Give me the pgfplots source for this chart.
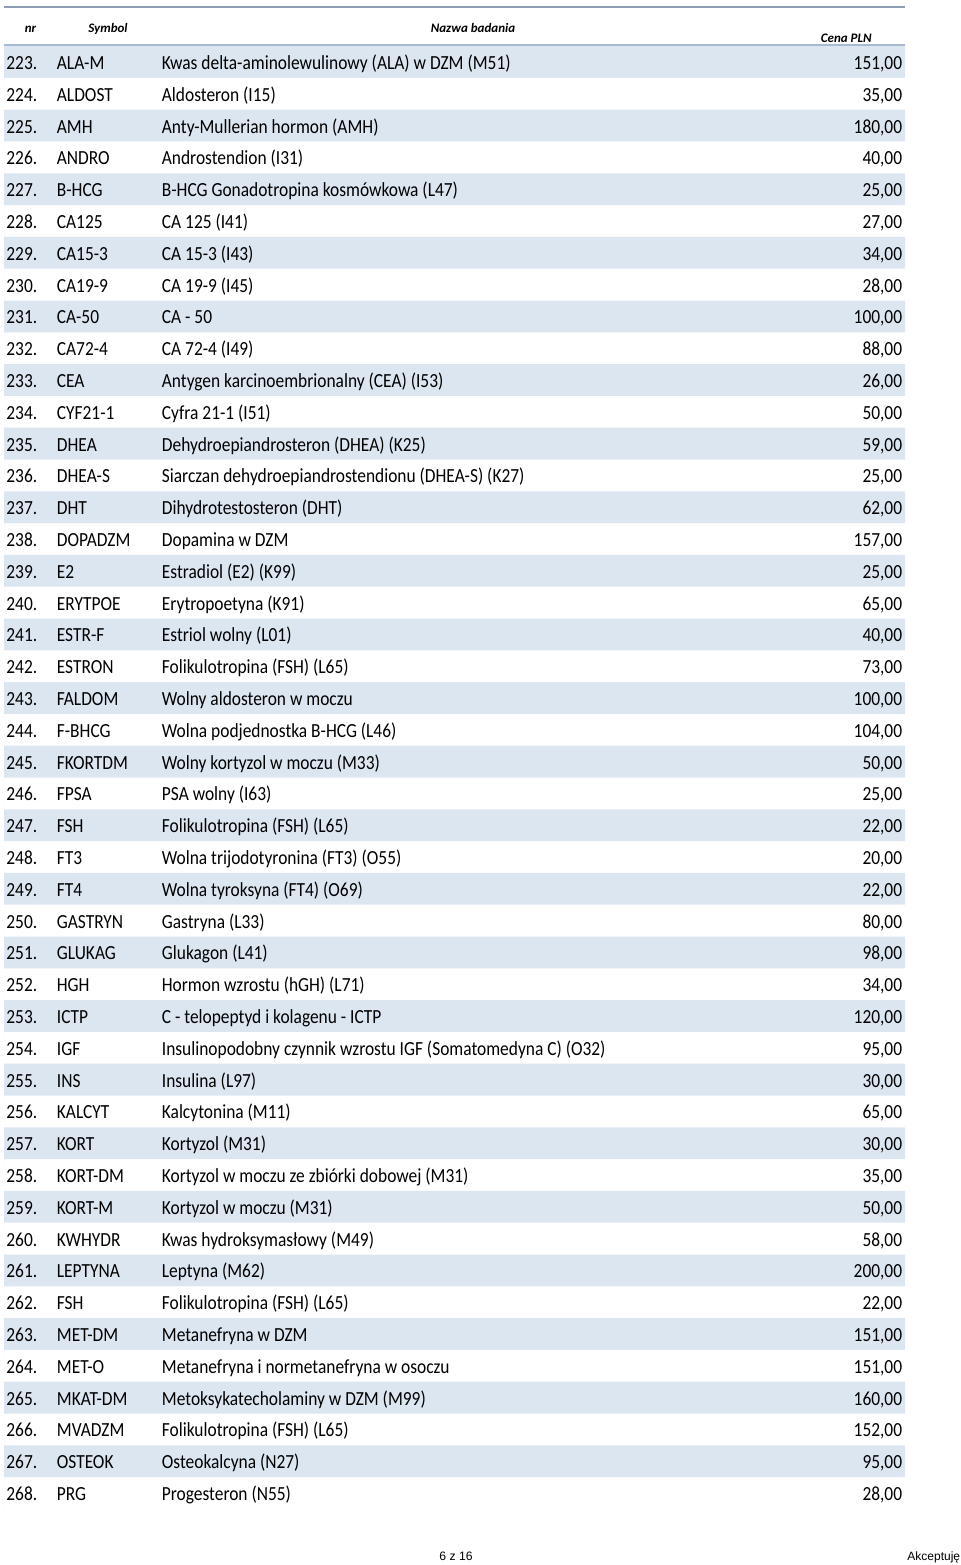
\documentclass[border=0pt]{standalone}
\usepackage{pgfplots}
\pgfplotsset{compat=1.18}
\usepackage{pgfplotstable}
\usepackage{fontspec}
\setmainfont{Carlito}
\newfontfamily\rowf[FakeStretch=0.87]{Carlito}
\newfontfamily\arialf{Liberation Sans}
\definecolor{band}{HTML}{DCE6F1}
\definecolor{topline}{HTML}{8E9DB5}
\definecolor{headline}{HTML}{A8BAD2}
\pgfplotstableread[col sep=semicolon]{
nr;sym;name;price;band
223.;ALA-M;Kwas delta-aminolewulinowy (ALA) w DZM (M51);151,00;901
224.;ALDOST;Aldosteron (I15);35,00;0
225.;AMH;Anty-Mullerian hormon (AMH);180,00;901
226.;ANDRO;Androstendion (I31);40,00;0
227.;B-HCG;B-HCG Gonadotropina kosmówkowa (L47);25,00;901
228.;CA125;CA 125 (I41);27,00;0
229.;CA15-3;CA 15-3 (I43);34,00;901
230.;CA19-9;CA 19-9 (I45);28,00;0
231.;CA-50;CA - 50;100,00;901
232.;CA72-4;CA 72-4 (I49);88,00;0
233.;CEA;Antygen karcinoembrionalny (CEA) (I53);26,00;901
234.;CYF21-1;Cyfra 21-1 (I51);50,00;0
235.;DHEA;Dehydroepiandrosteron (DHEA) (K25);59,00;901
236.;DHEA-S;Siarczan dehydroepiandrostendionu (DHEA-S) (K27);25,00;0
237.;DHT;Dihydrotestosteron (DHT);62,00;901
238.;DOPADZM;Dopamina w DZM;157,00;0
239.;E2;Estradiol (E2) (K99);25,00;901
240.;ERYTPOE;Erytropoetyna (K91);65,00;0
241.;ESTR-F;Estriol wolny (L01);40,00;901
242.;ESTRON;Folikulotropina (FSH) (L65);73,00;0
243.;FALDOM;Wolny aldosteron w moczu;100,00;901
244.;F-BHCG;Wolna podjednostka B-HCG (L46);104,00;0
245.;FKORTDM;Wolny kortyzol w moczu (M33);50,00;901
246.;FPSA;PSA wolny (I63);25,00;0
247.;FSH;Folikulotropina (FSH) (L65);22,00;901
248.;FT3;Wolna trijodotyronina (FT3) (O55);20,00;0
249.;FT4;Wolna tyroksyna (FT4) (O69);22,00;901
250.;GASTRYN;Gastryna (L33);80,00;0
251.;GLUKAG;Glukagon (L41);98,00;901
252.;HGH;Hormon wzrostu (hGH) (L71);34,00;0
253.;ICTP;C - telopeptyd i kolagenu - ICTP;120,00;901
254.;IGF;Insulinopodobny czynnik wzrostu IGF (Somatomedyna C) (O32);95,00;0
255.;INS;Insulina (L97);30,00;901
256.;KALCYT;Kalcytonina (M11);65,00;0
257.;KORT;Kortyzol (M31);30,00;901
258.;KORT-DM;Kortyzol w moczu ze zbiórki dobowej (M31);35,00;0
259.;KORT-M;Kortyzol w moczu (M31);50,00;901
260.;KWHYDR;Kwas hydroksymasłowy (M49);58,00;0
261.;LEPTYNA;Leptyna (M62);200,00;901
262.;FSH;Folikulotropina (FSH) (L65);22,00;0
263.;MET-DM;Metanefryna w DZM;151,00;901
264.;MET-O;Metanefryna i normetanefryna w osoczu;151,00;0
265.;MKAT-DM;Metoksykatecholaminy w DZM (M99);160,00;901
266.;MVADZM;Folikulotropina (FSH) (L65);152,00;0
267.;OSTEOK;Osteokalcyna (N27);95,00;901
268.;PRG;Progesteron (N55);28,00;0
}\datatable
\begin{document}
\begin{tikzpicture}
\begin{axis}[
  width=480pt, height=782.5pt, scale only axis, hide axis, clip=false,
  xmin=-4, xmax=956, ymin=-1.9497, ymax=47.264, y dir=reverse,
  txt/.style={draw=none, mark=none, nodes near coords={\pgfplotspointmeta}, point meta=explicit symbolic},
]
\path (rel axis cs:0,0) rectangle (rel axis cs:1,1);
% row bands
\addplot[xbar, bar width=1, fill=band, draw=none] table[x=band, y expr=\coordindex]{\datatable};
% header rules
\draw[topline, line width=1pt] (axis cs:0,-1.73) -- (axis cs:901,-1.73);
\draw[headline, line width=0.7pt] (axis cs:0,-0.535) -- (axis cs:901,-0.535);
% header
\node[anchor=base, inner sep=0pt, font=\fontsize{6.5}{7}\selectfont\bfseries\itshape] at (axis cs:26.5,-0.912) {nr};
\node[anchor=base, inner sep=0pt, font=\fontsize{6.5}{7}\selectfont\bfseries\itshape] at (axis cs:104,-0.912) {Symbol};
\node[anchor=base, inner sep=0pt, font=\fontsize{6.5}{7}\selectfont\bfseries\itshape] at (axis cs:469,-0.912) {Nazwa badania};
\node[anchor=base east, inner sep=0pt, font=\fontsize{6.5}{7}\selectfont\bfseries\itshape] at (axis cs:868,-0.607) {Cena PLN};
% columns
\addplot[txt, every node near coord/.append style={anchor=base west, inner sep=0pt, font=\rowf\fontsize{10}{11}\selectfont}] table[x expr=2, y expr=\coordindex+0.236, meta=nr]{\datatable};
\addplot[txt, every node near coord/.append style={anchor=base west, inner sep=0pt, font=\rowf\fontsize{10}{11}\selectfont}] table[x expr=52.5, y expr=\coordindex+0.236, meta=sym]{\datatable};
\addplot[txt, every node near coord/.append style={anchor=base west, inner sep=0pt, font=\rowf\fontsize{10}{11}\selectfont}] table[x expr=157.5, y expr=\coordindex+0.236, meta=name]{\datatable};
\addplot[txt, every node near coord/.append style={anchor=base east, inner sep=0pt, font=\rowf\fontsize{10}{11}\selectfont}] table[x expr=898.5, y expr=\coordindex+0.236, meta=price]{\datatable};
% footer
\node[anchor=base, inner sep=0pt, font=\arialf\fontsize{6.1}{7}\selectfont] at (axis cs:452,47.107) {6 z 16};
\node[anchor=base west, inner sep=0pt, font=\arialf\fontsize{6}{7}\selectfont] at (axis cs:903,47.107) {Akceptuję};
\end{axis}
\end{tikzpicture}
\end{document}
